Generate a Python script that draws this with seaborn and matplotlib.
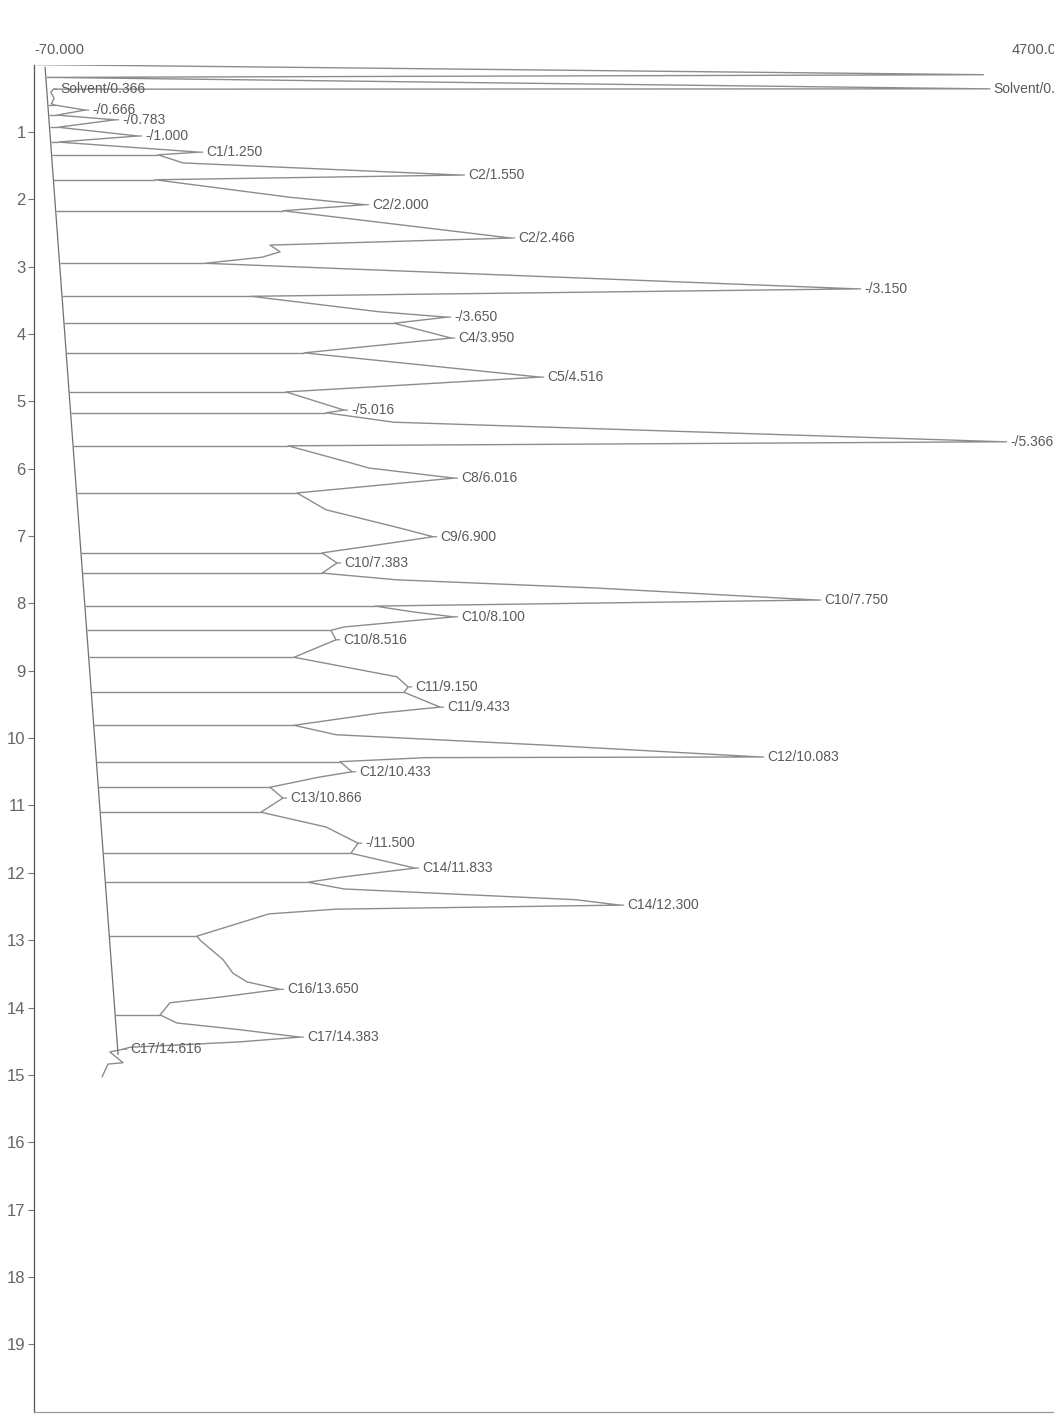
import numpy as np
import pandas as pd
import matplotlib
matplotlib.use("Agg")
import matplotlib.pyplot as plt
import seaborn as sns

# ---------------- data ----------------
# retention time axis (minutes, drawn downwards) and detector signal (drawn rightwards)
time_ticks = list(range(1, 20))
x_min, x_max_label = -70.0, 4700.0
x_min_text, x_max_text = "-70.000", "4700.000"

trace_time = [0.00, 0.15, 0.19, 0.36, 0.365, 0.41, 0.50, 0.58,
              0.60, 0.675, 0.75, 0.82, 0.93, 1.06, 1.15, 1.30,
              1.34, 1.46, 1.64, 1.71, 1.97, 2.08, 2.17, 2.575,
              2.68, 2.78, 2.86, 2.95, 3.33, 3.44, 3.67, 3.75,
              3.84, 4.06, 4.28, 4.64, 4.86, 5.13, 5.17, 5.31,
              5.60, 5.66, 5.915, 5.99, 6.14, 6.36, 6.61, 6.87,
              7.01, 7.09, 7.25, 7.40, 7.55, 7.65, 7.77, 7.95,
              8.04, 8.13, 8.20, 8.35, 8.40, 8.54, 8.80, 9.09,
              9.24, 9.32, 9.54, 9.63, 9.81, 9.95, 10.10, 10.28,
              10.29, 10.35, 10.50, 10.58, 10.73, 10.89, 11.10, 11.32,
              11.56, 11.71, 11.93, 12.06, 12.14, 12.24, 12.40, 12.48,
              12.54, 12.61, 12.94, 13.00, 13.29, 13.49, 13.62, 13.73,
              13.84, 13.93, 14.11, 14.23, 14.33, 14.44, 14.51, 14.56,
              14.59, 14.62, 14.66, 14.82, 14.84, 15.03]
trace_signal = [-55, 4560, -6, 4575, 25, 12, 28, 15,
                30, 179, 42, 325, 47, 437, 47, 735,
                535, 657, 2012, 520, 1178, 1544, 1144, 2256,
                1081, 1130, 1042, 764, 3944, 988, 1613, 1944,
                1686, 1964, 1247, 2398, 1159, 1442, 1354, 1686,
                4656, 1169, 1476, 1564, 1978, 1213, 1354, 1700,
                1876, 1700, 1335, 1408, 1335, 1700, 2661, 3749,
                1593, 1788, 1978, 1442, 1378, 1403, 1198, 1700,
                1754, 1735, 1910, 1613, 1198, 1403, 2398, 3471,
                1842, 1422, 1481, 1320, 1081, 1144, 1037, 1354,
                1510, 1476, 1788, 1442, 1266, 1442, 2573, 2788,
                1403, 1076, 725, 740, 852, 900, 969, 1130,
                852, 593, 545, 627, 935, 1227, 935, 608,
                398, 364, 300, 364, 291, 262]

# integration baseline (straight drifting line) and valley drop lines
baseline_time = [0.04, 14.70]
baseline_signal = [-16, 340]
drop_time = [0.60, 0.75, 0.93, 1.15, 1.34, 1.71, 2.17, 2.95, 3.44, 3.84,
             4.28, 4.86, 5.17, 5.66, 6.36, 7.25, 7.55, 8.04, 8.40, 8.80,
             9.32, 9.81, 10.35, 10.73, 11.10, 11.71, 12.14, 12.94, 14.11]
drop_signal = [30, 42, 47, 47, 535, 520, 1144, 764, 988, 1686,
               1247, 1159, 1354, 1169, 1213, 1335, 1335, 1593, 1378, 1198,
               1735, 1198, 1422, 1081, 1037, 1476, 1266, 725, 545]

# peak labels (name/retention time) at the peak tips
peak_labels = ["Solvent/0.200", "Solvent/0.366", "-/0.666", "-/0.783", "-/1.000",
               "C1/1.250", "C2/1.550", "C2/2.000", "C2/2.466", "-/3.150",
               "-/3.650", "C4/3.950", "C5/4.516", "-/5.016", "-/5.366",
               "C8/6.016", "C9/6.900", "C10/7.383", "C10/7.750", "C10/8.100",
               "C10/8.516", "C11/9.150", "C11/9.433", "C12/10.083", "C12/10.433",
               "C13/10.866", "-/11.500", "C14/11.833", "C14/12.300", "C16/13.650",
               "C17/14.383", "C17/14.616"]
peak_time = [0.36, 0.365, 0.675, 0.82, 1.06,
             1.30, 1.64, 2.08, 2.575, 3.33,
             3.75, 4.06, 4.64, 5.13, 5.60,
             6.14, 7.01, 7.40, 7.95, 8.20,
             8.54, 9.24, 9.54, 10.28, 10.50,
             10.89, 11.56, 11.93, 12.48, 13.73,
             14.44, 14.62]
peak_signal = [4575, 25, 179, 325, 437,
               735, 2012, 1544, 2256, 3944,
               1944, 1964, 2398, 1442, 4656,
               1978, 1876, 1408, 3749, 1978,
               1403, 1754, 1910, 3471, 1481,
               1144, 1510, 1788, 2788, 1130,
               1227, 364]

# ---------------- style ----------------
sns.set_theme(style="white")
FONT = ["Liberation Sans Narrow", "Liberation Sans", "DejaVu Sans"]
plt.rcParams["font.family"] = FONT

line_col = "#8c8c8c"
text_col = "#5a5a5a"

W, H = 1054, 1414
fig = plt.figure(figsize=(W / 100, H / 100), dpi=100)
fig.patch.set_facecolor("white")
ax = fig.add_axes([34 / W, 1 - 1411.6 / H, (W - 34) / W, (1411.6 - 64.6) / H])
ax.set_facecolor("white")

trace = pd.DataFrame({"signal": trace_signal, "time": trace_time})
sns.lineplot(data=trace, x="signal", y="time", sort=False, estimator=None,
             color=line_col, lw=1.0, ax=ax)

base = pd.DataFrame({"signal": baseline_signal, "time": baseline_time})
sns.lineplot(data=base, x="signal", y="time", sort=False, estimator=None,
             color="#707070", lw=0.9, ax=ax)

drop_start = np.interp(drop_time, baseline_time, baseline_signal)
ax.hlines(drop_time, drop_start, drop_signal, colors=line_col, lw=1.0)

for lab, t, s in zip(peak_labels, peak_time, peak_signal):
    ax.annotate(lab, xy=(s, t), xytext=(5, 0), textcoords="offset points",
                ha="left", va="center", fontsize=10, color=text_col,
                annotation_clip=False,
                arrowprops=dict(arrowstyle="-", color=line_col, lw=0.9,
                                shrinkA=0, shrinkB=0))

ax.set_xlim(x_min, -70 + (W - 34) * 4.877)
ax.set_ylim(20, 0)
ax.set_yticks(time_ticks)
ax.set_yticklabels([str(v) for v in time_ticks])
ax.set_xticks([])
ax.set_xlabel("")
ax.set_ylabel("")
ax.tick_params(axis="y", left=True, direction="out", length=4, width=0.8,
               color="#777777", labelsize=12, labelcolor="#666666", pad=2)

ax.text(x_min, -0.12, x_min_text, ha="left", va="bottom", fontsize=10.5,
        color=text_col, clip_on=False)
ax.text(x_max_label, -0.12, x_max_text, ha="left", va="bottom", fontsize=10.5,
        color=text_col, clip_on=False)

for side in ["top", "right"]:
    ax.spines[side].set_visible(False)
ax.spines["left"].set_color("#555555")
ax.spines["left"].set_linewidth(0.9)
ax.spines["bottom"].set_color("#999999")
ax.spines["bottom"].set_linewidth(0.9)

fig.savefig("out.png", dpi=100, facecolor="white")
